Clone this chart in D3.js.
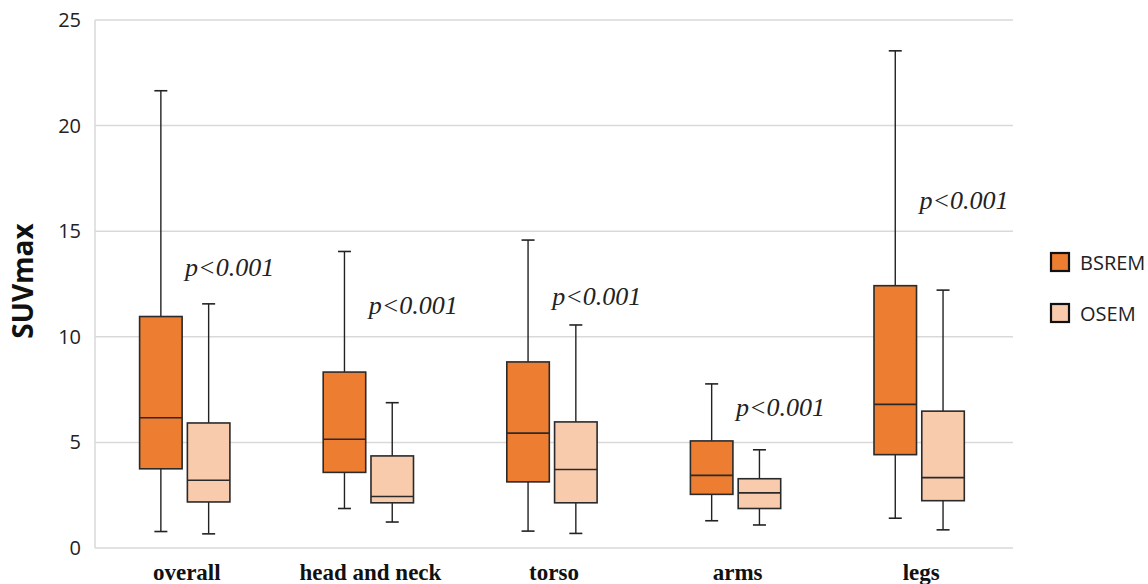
<!DOCTYPE html>
<html>
<head>
<meta charset="utf-8">
<script src="https://cdn.jsdelivr.net/npm/d3@7"></script>
<style>
  body { margin: 0; background: #fff; }
</style>
</head>
<body>
<div id="chart"></div>
<script>
// regions along the x axis
var categories = ["overall", "head and neck", "torso", "arms", "legs"];
var series = ["BSREM", "OSEM"];
var colors = ["#ED7D31", "#F8CBAD"];

// box stats per region: [min, q1, median, q3, max]
var bsrem = [
	[0.78, 3.75, 6.17, 10.96, 21.65],
	[1.87, 3.58, 5.15, 8.33, 14.04],
	[0.80, 3.13, 5.44, 8.81, 14.58],
	[1.29, 2.54, 3.44, 5.07, 7.77],
	[1.41, 4.42, 6.80, 12.42, 23.54]
];
var osem = [
	[0.67, 2.18, 3.21, 5.92, 11.56],
	[1.23, 2.14, 2.44, 4.36, 6.88],
	[0.69, 2.14, 3.72, 5.97, 10.56],
	[1.09, 1.87, 2.61, 3.28, 4.65],
	[0.86, 2.24, 3.33, 6.48, 12.21]
];

// p-value notes and the height (in SUVmax) where each one sits
var pText = ["p<0.001", "p<0.001", "p<0.001", "p<0.001", "p<0.001"];
var pAt = [12.9, 11.1, 11.5, 6.25, 16.05];

var yTicks = [0, 5, 10, 15, 20, 25];

var width = 1148, height = 584;
var plotLeft = 95, plotRight = 1013, plotTop = 20, plotBottom = 548;

var svg = d3.select("#chart").append("svg")
	.attr("width", width)
	.attr("height", height);

var y = d3.scaleLinear().domain([0, 25]).range([plotBottom, plotTop]);
var x0 = d3.scaleBand().domain(categories).range([plotLeft, plotRight]);
var x1 = d3.scaleBand().domain(series).range([44.6, 134.9]).paddingInner(0.11);

// gridlines
svg.append("g")
	.selectAll("line")
	.data(yTicks)
	.enter()
	.append("line")
	.attr("x1", plotLeft)
	.attr("x2", plotRight)
	.attr("y1", function(d) { return y(d); })
	.attr("y2", function(d) { return y(d); })
	.attr("stroke", "#d9d9d9")
	.attr("stroke-width", 1.5);

svg.append("line")
	.attr("x1", plotLeft).attr("x2", plotLeft)
	.attr("y1", y(25)).attr("y2", y(0))
	.attr("stroke", "#d9d9d9")
	.attr("stroke-width", 1.5);

// y axis labels
var yAxis = svg.append("g")
	.attr("transform", "translate(" + (plotLeft - 6) + ",0)")
	.call(d3.axisLeft(y).tickValues(yTicks).tickSize(0).tickPadding(8));
yAxis.select(".domain").remove();
yAxis.selectAll("text")
	.attr("font-family", "'Open Sans', sans-serif")
	.attr("font-size", 20)
	.attr("fill", "#222");

svg.append("text")
	.attr("transform", "translate(33,281) rotate(-90)")
	.attr("text-anchor", "middle")
	.attr("font-family", "'Open Sans', sans-serif")
	.attr("font-weight", "bold")
	.attr("font-size", 28)
	.attr("fill", "#111")
	.text("SUVmax");

// x axis labels
var xAxis = svg.append("g")
	.attr("transform", "translate(0," + (plotBottom + 8) + ")")
	.call(d3.axisBottom(x0).tickSize(0).tickPadding(8));
xAxis.select(".domain").remove();
xAxis.selectAll("text")
	.attr("font-family", "'Liberation Serif', 'Times New Roman', serif")
	.attr("font-weight", "bold")
	.attr("font-size", 23)
	.attr("fill", "#111");

// boxes
var all = [bsrem, osem];
series.forEach(function(s, si) {
	var g = svg.append("g");
	var groups = g.selectAll("g")
		.data(all[si])
		.enter()
		.append("g")
		.attr("transform", function(d, i) {
			return "translate(" + (x0(categories[i]) + x1(s)) + ",0)";
		});

	var bw = x1.bandwidth();
	var cx = bw / 2;
	var cap = 13;

	// whiskers
	groups.append("line")
		.attr("x1", cx).attr("x2", cx)
		.attr("y1", function(d) { return y(d[4]); })
		.attr("y2", function(d) { return y(d[3]); })
		.attr("stroke", "#222").attr("stroke-width", 1.4);
	groups.append("line")
		.attr("x1", cx).attr("x2", cx)
		.attr("y1", function(d) { return y(d[1]); })
		.attr("y2", function(d) { return y(d[0]); })
		.attr("stroke", "#222").attr("stroke-width", 1.4);
	groups.append("line")
		.attr("x1", cx - cap / 2).attr("x2", cx + cap / 2)
		.attr("y1", function(d) { return y(d[4]); })
		.attr("y2", function(d) { return y(d[4]); })
		.attr("stroke", "#222").attr("stroke-width", 1.6);
	groups.append("line")
		.attr("x1", cx - cap / 2).attr("x2", cx + cap / 2)
		.attr("y1", function(d) { return y(d[0]); })
		.attr("y2", function(d) { return y(d[0]); })
		.attr("stroke", "#222").attr("stroke-width", 1.6);

	// box and median
	groups.append("rect")
		.attr("x", 0)
		.attr("width", bw)
		.attr("y", function(d) { return y(d[3]); })
		.attr("height", function(d) { return y(d[1]) - y(d[3]); })
		.attr("fill", colors[si])
		.attr("stroke", "#2a2a2a")
		.attr("stroke-width", 1.6);
	groups.append("line")
		.attr("x1", 0).attr("x2", bw)
		.attr("y1", function(d) { return y(d[2]); })
		.attr("y2", function(d) { return y(d[2]); })
		.attr("stroke", "#2a2a2a")
		.attr("stroke-width", 1.6);
});

// p-value notes
svg.append("g")
	.selectAll("text")
	.data(pText)
	.enter()
	.append("text")
	.attr("x", function(d, i) {
		return x0(categories[i]) + x1("OSEM") + x1.bandwidth() / 2 + 21;
	})
	.attr("y", function(d, i) { return y(pAt[i]); })
	.attr("text-anchor", "middle")
	.attr("font-family", "'Liberation Serif', 'Times New Roman', serif")
	.attr("font-style", "italic")
	.attr("font-size", 26)
	.attr("fill", "#222")
	.text(function(d) { return d; });

// legend
var legend = svg.append("g")
	.selectAll("g")
	.data(series)
	.enter()
	.append("g")
	.attr("transform", function(d, i) {
		return "translate(1051," + (253 + i * 51) + ")";
	});
legend.append("rect")
	.attr("width", 18)
	.attr("height", 18)
	.attr("fill", function(d, i) { return colors[i]; })
	.attr("stroke", "#111")
	.attr("stroke-width", 2.2);
legend.append("text")
	.attr("x", 29)
	.attr("y", 17)
	.attr("font-family", "'Open Sans', sans-serif")
	.attr("font-size", 20)
	.attr("fill", "#222")
	.text(function(d) { return d; });
</script>
</body>
</html>
